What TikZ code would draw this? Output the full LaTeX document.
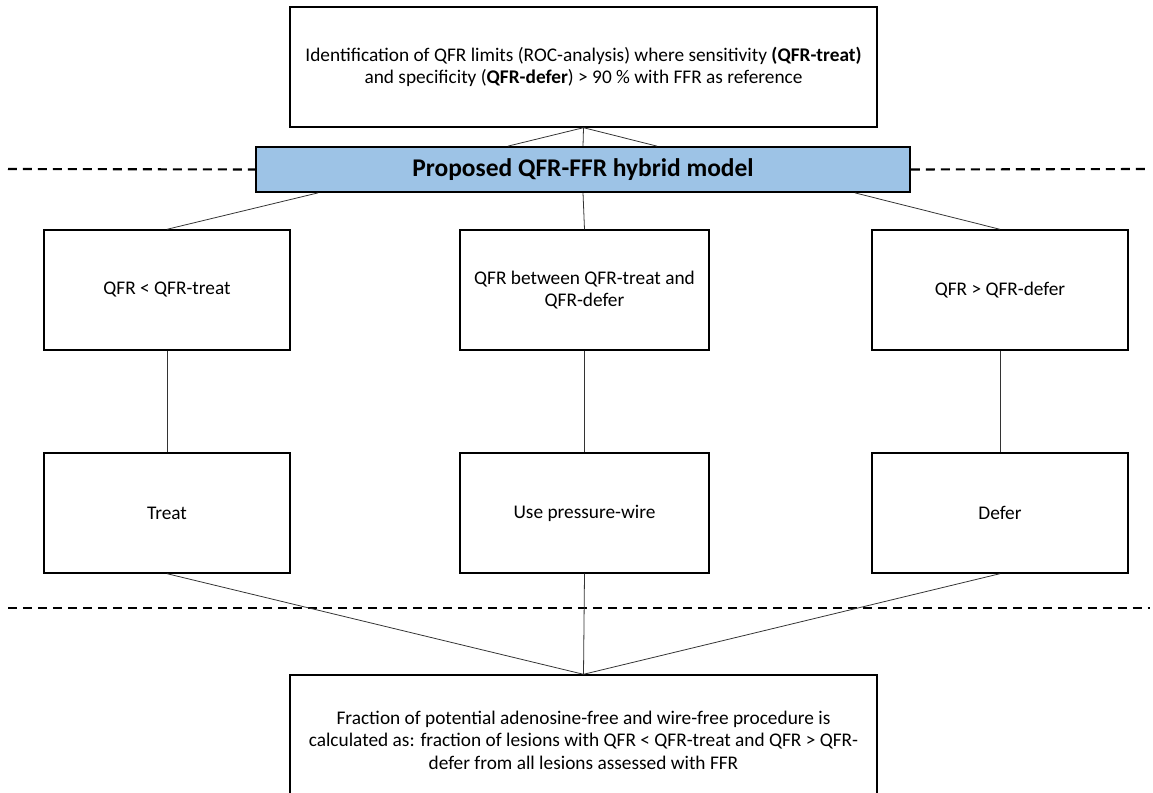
\documentclass[tikz,border=0pt]{standalone}
\usepackage{fontspec}
\setmainfont{Carlito}
\usetikzlibrary{positioning}
\definecolor{barblue}{HTML}{9DC3E6}

\tikzset{
  box/.style={draw, line width=0.8pt, align=center, font=\fontsize{11}{12.8}\selectfont},
  link/.style={draw=black!80, line width=0.45pt},
  sepline/.style={line width=1.2pt, dash pattern=on 0.18cm off 0.12cm}
}

\begin{document}
\begin{tikzpicture}[x=0.02cm, y=-0.02cm]
    \useasboundingbox (0,0) rectangle (1153,793);
    % limits and model bar
    \node[box, minimum width=11.74cm, minimum height=2.4cm] (limits) at (583.5,67)
      {Identification of QFR limits (ROC-analysis) where sensitivity \textbf{(QFR-treat)}\\
       and specificity (\textbf{QFR-defer}) > 90~\% with FFR as reference};
    \node[box, fill=barblue, line width=1pt, minimum width=13.08cm, minimum height=0.9cm,
      font=\fontsize{14.5}{17}\selectfont\bfseries] (model) at (583,169.5)
      {Proposed QFR-FFR hybrid model};
    \draw[sepline] (8,169) -- (model.west);
    \draw[sepline] (model.east) -- (1150,169);
    % QFR ranges
    \node[box, minimum width=4.92cm, minimum height=2.4cm] (low) at (167,290) {QFR < QFR-treat};
    \node[box, minimum width=4.98cm, minimum height=2.4cm] (mid) at (584.5,290)
      {QFR between QFR-treat and\\QFR-defer};
    \node[box, minimum width=5.12cm, minimum height=2.4cm] (high) at (1000,290) {QFR > QFR-defer};
    % decisions
    \node[box, minimum width=4.92cm, minimum height=2.4cm] (treat) at (167,513) {Treat};
    \node[box, minimum width=4.98cm, minimum height=2.4cm] (wire) at (584.5,513) {Use pressure-wire};
    \node[box, minimum width=5.12cm, minimum height=2.4cm] (defer) at (1000,513) {Defer};
    \draw[sepline] (8,608) -- (1150,608);
    % outcome
    \node[box, minimum width=11.74cm, minimum height=2.6cm] (fraction) at (583.5,740)
      {Fraction of potential adenosine-free and wire-free procedure is\\
       calculated as: fraction of lesions with QFR < QFR-treat and QFR > QFR-\\
       defer from all lesions assessed with FFR};
    % connectors
    \draw[link] (limits.south) -- ([xshift=-1.5cm]model.north);
    \draw[link] (limits.south) -- (model.north);
    \draw[link] (limits.south) -- ([xshift=1.48cm]model.north);
    \draw[link] ([xshift=-5.3cm]model.south) -- (low.north);
    \draw[link] (model.south) -- (mid.north);
    \draw[link] ([xshift=5.44cm]model.south) -- (high.north);
    \draw[link] (low.south) -- (treat.north);
    \draw[link] (mid.south) -- (wire.north);
    \draw[link] (high.south) -- (defer.north);
    \draw[link] (treat.south) -- (fraction.north);
    \draw[link] (wire.south) -- (fraction.north);
    \draw[link] (defer.south) -- (fraction.north);
\end{tikzpicture}
\end{document}
